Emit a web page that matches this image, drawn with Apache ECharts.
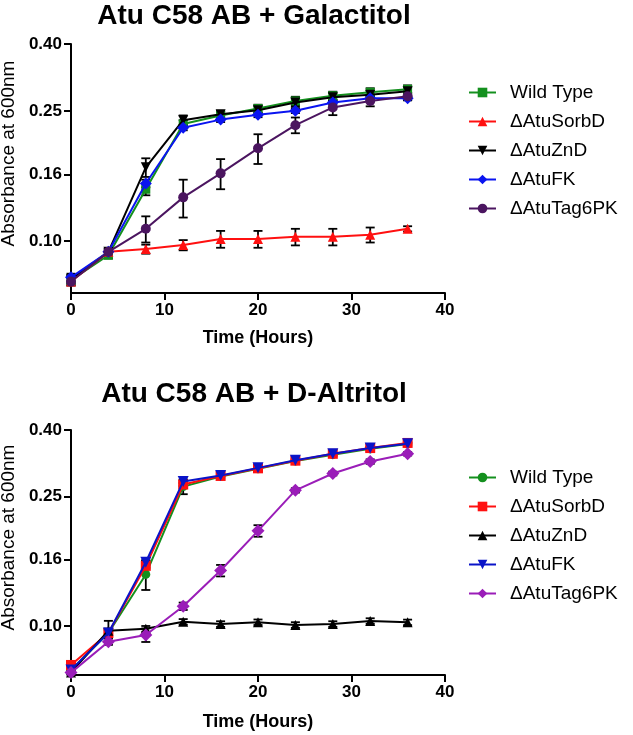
<!DOCTYPE html>
<html><head><meta charset="utf-8">
<script src="https://cdn.jsdelivr.net/npm/echarts@6/dist/echarts.min.js"></script>
<style>html,body{margin:0;padding:0;background:#fff}#c{width:633px;height:735px}</style>
</head><body><div id="c"></div>
<script>
// ---- data ----
const hours = [0, 4, 8, 12, 16, 20, 24, 28, 32, 36];
const yTicks = [0.10, 0.16, 0.25, 0.40];
const yTickLabels = ['0.10', '0.16', '0.25', '0.40'];
const titles = ['Atu C58 AB + Galactitol', 'Atu C58 AB + D-Altritol'];
const seriesNames = ['Wild Type', '\u0394AtuSorbD', '\u0394AtuZnD', '\u0394AtuFK', '\u0394AtuTag6PK'];

// Galactitol panel (mean, sd)
const galWT     = [0.0760, 0.0905, 0.144, 0.228, 0.242, 0.254, 0.268, 0.278, 0.285, 0.291];
const galSorbD  = [0.0752, 0.0927, 0.0945, 0.0972, 0.1014, 0.1014, 0.103, 0.103, 0.1045, 0.109];
const galZnD    = [0.0765, 0.0927, 0.168, 0.234, 0.244, 0.251, 0.265, 0.275, 0.280, 0.287];
const galFK     = [0.0775, 0.0927, 0.150, 0.222, 0.235, 0.243, 0.250, 0.265, 0.273, 0.273];
const galTag6PK = [0.0752, 0.0927, 0.109, 0.136, 0.161, 0.192, 0.226, 0.256, 0.268, 0.277];
const galWTsd     = [0.002, 0.002, 0.006, 0.006, 0.006, 0.007, 0.008, 0.008, 0.008, 0.008];
const galSorbDsd  = [0.002, 0.002, 0.003, 0.0035, 0.006, 0.006, 0.006, 0.006, 0.0055, 0.002];
const galZnDsd    = [0.002, 0.002, 0.011, 0.008, 0.006, 0.007, 0.008, 0.008, 0.008, 0.008];
const galFKsd     = [0.002, 0.002, 0.004, 0.004, 0.004, 0.004, 0.004, 0.004, 0.004, 0.004];
const galTag6PKsd = [0.002, 0.002, 0.010, 0.018, 0.017, 0.020, 0.0125, 0.0135, 0.010, 0.007];

// D-Altritol panel (mean, sd)
const altWT     = [0.0733, 0.0952, 0.144, 0.268, 0.288, 0.304, 0.321, 0.336, 0.350, 0.362];
const altSorbD  = [0.0759, 0.0952, 0.153, 0.272, 0.289, 0.305, 0.322, 0.338, 0.352, 0.365];
const altZnD    = [0.0720, 0.0967, 0.098, 0.103, 0.1014, 0.1027, 0.1007, 0.1014, 0.1036, 0.1026];
const altFK     = [0.0733, 0.0952, 0.157, 0.278, 0.290, 0.306, 0.323, 0.338, 0.352, 0.363];
const altTag6PK = [0.0719, 0.0895, 0.0938, 0.115, 0.148, 0.196, 0.261, 0.294, 0.320, 0.338];
const altWTsd     = [0.001, 0.003, 0.015, 0.014, 0.004, 0.004, 0.004, 0.004, 0.004, 0.004];
const altSorbDsd  = [0.001, 0.002, 0.002, 0.002, 0.002, 0.002, 0.002, 0.002, 0.002, 0.002];
const altZnDsd    = [0.001, 0.007, 0.002, 0.002, 0.002, 0.002, 0.002, 0.002, 0.002, 0.002];
const altFKsd     = [0.001, 0.002, 0.002, 0.002, 0.002, 0.002, 0.002, 0.002, 0.002, 0.002];
const altTag6PKsd = [0.001, 0.002, 0.0045, 0.003, 0.006, 0.008, 0.004, 0.004, 0.005, 0.004];

// ---- styles ----
const FONT = 'Arial, "Liberation Sans", sans-serif';
const downTri = 'path://M0,0 L10,0 L5,9 Z';
const galStyle = [
  {color: '#14901e', symbol: 'rect', size: 9},
  {color: '#ff1010', symbol: 'triangle', size: 10},
  {color: '#000000', symbol: downTri, size: 10},
  {color: '#0a14f0', symbol: 'diamond', size: 12},
  {color: '#4b1560', symbol: 'circle', size: 10}
];
const altStyle = [
  {color: '#14901e', symbol: 'circle', size: 9},
  {color: '#ff1010', symbol: 'rect', size: 10},
  {color: '#000000', symbol: 'triangle', size: 10},
  {color: '#0a14c8', symbol: downTri, size: 11},
  {color: '#9a1db8', symbol: 'diamond', size: 13}
];
const galVals = [galWT, galSorbD, galZnD, galFK, galTag6PK];
const galSds = [galWTsd, galSorbDsd, galZnDsd, galFKsd, galTag6PKsd];
const altVals = [altWT, altSorbD, altZnD, altFK, altTag6PK];
const altSds = [altWTsd, altSorbDsd, altZnDsd, altFKsd, altTag6PKsd];
const prefixes = ['gal:', 'alt:'];

function lineSeries(p, i, vals, st) {
  return {
    type: 'line', name: prefixes[p] + seriesNames[i], xAxisIndex: p, yAxisIndex: p,
    data: hours.map((t, k) => [t, vals[k]]),
    symbol: st.symbol, symbolSize: st.size, showAllSymbol: true,
    itemStyle: {color: st.color, opacity: 1},
    lineStyle: {color: st.color, width: 2},
    z: 3 + i, animation: false, emphasis: {disabled: true}
  };
}
function errSeries(p, vals, sds) {
  return {
    type: 'custom', xAxisIndex: p, yAxisIndex: p, z: 2, silent: true, animation: false,
    data: hours.map((t, k) => [t, vals[k] - sds[k], vals[k] + sds[k]]),
    encode: {x: 0, y: [1, 2]},
    renderItem: function (params, api) {
      const lo = api.coord([api.value(0), api.value(1)]);
      const hi = api.coord([api.value(0), api.value(2)]);
      const w = 4.5, st = {stroke: '#000', lineWidth: 1.8};
      return {type: 'group', children: [
        {type: 'line', shape: {x1: lo[0], y1: lo[1], x2: hi[0], y2: hi[1]}, style: st},
        {type: 'line', shape: {x1: lo[0] - w, y1: lo[1], x2: lo[0] + w, y2: lo[1]}, style: st},
        {type: 'line', shape: {x1: hi[0] - w, y1: hi[1], x2: hi[0] + w, y2: hi[1]}, style: st}
      ]};
    }
  };
}

const series = [];
[[galVals, galSds, galStyle], [altVals, altSds, altStyle]].forEach(([vals, sds, sty], p) => {
  vals.forEach((v, i) => series.push(errSeries(p, v, sds[i])));
  vals.forEach((v, i) => series.push(lineSeries(p, i, v, sty[i])));
});

const grids = [
  {left: 71, top: 44, width: 374, height: 249, containLabel: false, outerBoundsMode: 'none'},
  {left: 71, top: 430, width: 374, height: 245, containLabel: false, outerBoundsMode: 'none'}
];
const yMins = [0.0694, 0.0707];
const axisLineStyle = {color: '#000', width: 2};
const tickLabel = {color: '#000', fontSize: 17, fontWeight: 'bold', fontFamily: FONT};

const xAxes = grids.map((g, p) => ({
  type: 'value', gridIndex: p, min: 0, max: 40, interval: 10,
  axisLine: {show: true, onZero: false, lineStyle: axisLineStyle},
  axisTick: {show: true, length: 7, lineStyle: axisLineStyle},
  axisLabel: Object.assign({margin: 9}, tickLabel),
  splitLine: {show: false},
  name: 'Time (Hours)', nameLocation: 'middle', nameGap: p === 0 ? 36 : 38,
  nameTextStyle: {color: '#000', fontSize: 18, fontWeight: 'bold', fontFamily: FONT}
}));
const yAxes = grids.map((g, p) => ({
  type: 'log', logBase: 10, gridIndex: p, min: yMins[p], max: 0.40,
  axisLine: {show: true, onZero: false, lineStyle: axisLineStyle},
  axisTick: {show: true, length: 7, lineStyle: axisLineStyle, customValues: yTicks},
  axisLabel: Object.assign({margin: 9, customValues: yTicks,
    formatter: function (v) {
      let best = 0;
      yTicks.forEach((t, k) => { if (Math.abs(t - v) < Math.abs(yTicks[best] - v)) best = k; });
      return yTickLabels[best];
    }}, tickLabel),
  splitLine: {show: false}, minorTick: {show: false},
  name: 'Absorbance at 600nm', nameLocation: 'middle', nameGap: 46,
  nameTextStyle: {color: '#000', fontSize: 19, fontFamily: FONT, padding: [0, 0, 0, 30]}
}));

const legends = [83, 468].map((top, p) => ({
  orient: 'vertical', left: 468, top: top, padding: 0,
  itemWidth: 27, itemHeight: 12, itemGap: 10,
  selectedMode: false,
  data: seriesNames.map(n => prefixes[p] + n),
  formatter: n => n.slice(4),
  textStyle: {color: '#000', fontSize: 19, fontFamily: FONT, padding: [0, 0, 0, 9]}
}));

const titleOpts = titles.map((t, p) => ({
  text: t, left: 254, textAlign: 'center', top: p === 0 ? 2 : 380, padding: 0,
  textStyle: {color: '#000', fontSize: 28, fontWeight: 'bold', fontFamily: FONT}
}));

const chart = echarts.init(document.getElementById('c'), null, {renderer: 'canvas'});
chart.setOption({
  backgroundColor: '#fff',
  animation: false,
  title: titleOpts,
  legend: legends,
  grid: grids,
  xAxis: xAxes,
  yAxis: yAxes,
  series: series
});
</script></body></html>
